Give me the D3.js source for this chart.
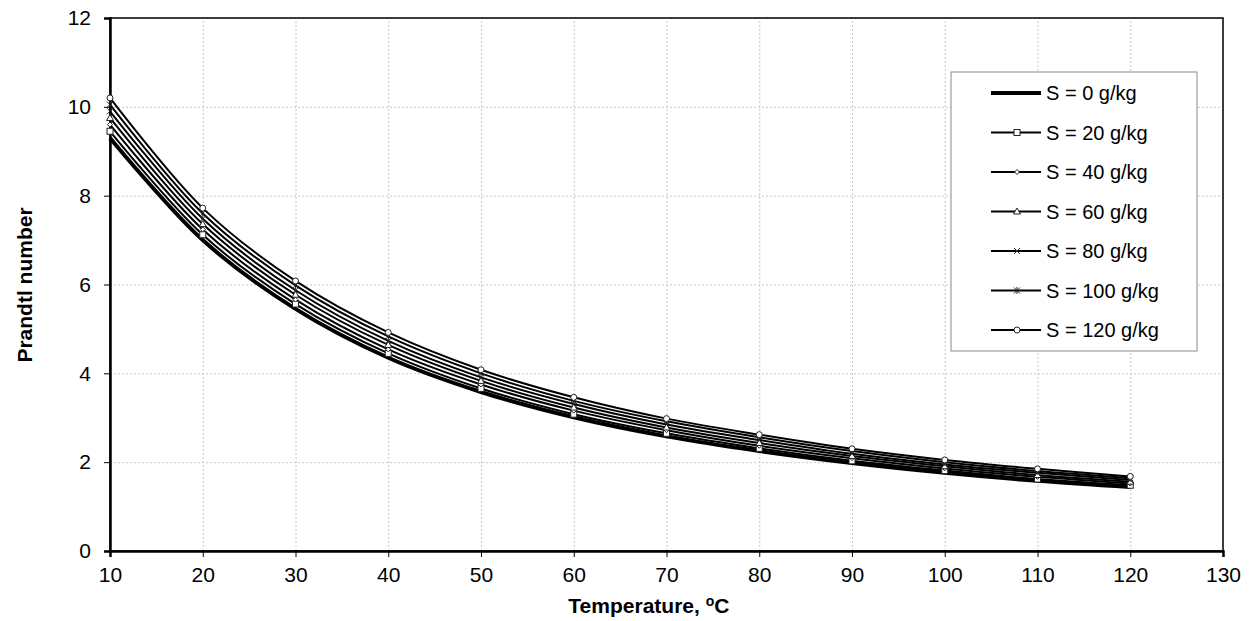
<!DOCTYPE html>
<html>
<head>
<meta charset="utf-8">
<script src="https://cdn.jsdelivr.net/npm/d3@7"></script>
<style>
  body { margin: 0; background: #fff; }
  text { font-family: "Liberation Sans", Arial, sans-serif; }
  .grid line { stroke: #c8c8c8; stroke-dasharray: 2,2; }
  .grid .domain { display: none; }
  .axis text { font-size: 21px; fill: #000; }
  .axis line, .axis path { stroke: #000; }
</style>
</head>
<body>
<div class="chart"></div>
<script>
// temperatures (x) and Prandtl numbers per salinity
const temps = [10, 20, 30, 40, 50, 60, 70, 80, 90, 100, 110, 120];
const labels = ["S = 0 g/kg", "S = 20 g/kg", "S = 40 g/kg", "S = 60 g/kg", "S = 80 g/kg", "S = 100 g/kg", "S = 120 g/kg"];
const s0   = [9.30, 7.00, 5.45, 4.35, 3.58, 3.01, 2.58, 2.25, 1.98, 1.76, 1.58, 1.44];
const s20  = [9.45, 7.12, 5.56, 4.45, 3.66, 3.08, 2.65, 2.31, 2.03, 1.81, 1.62, 1.48];
const s40  = [9.60, 7.24, 5.66, 4.54, 3.75, 3.16, 2.72, 2.37, 2.09, 1.86, 1.67, 1.52];
const s60  = [9.75, 7.36, 5.77, 4.64, 3.83, 3.23, 2.78, 2.43, 2.14, 1.91, 1.71, 1.56];
const s80  = [9.90, 7.48, 5.87, 4.73, 3.91, 3.31, 2.85, 2.50, 2.19, 1.95, 1.76, 1.60];
const s100 = [10.05, 7.60, 5.98, 4.83, 4.00, 3.38, 2.92, 2.56, 2.25, 2.00, 1.80, 1.64];
const s120 = [10.20, 7.72, 6.08, 4.92, 4.08, 3.46, 2.98, 2.62, 2.30, 2.05, 1.85, 1.68];
const series = [s0, s20, s40, s60, s80, s100, s120];
const markers = ["none", "square", "diamond", "triangle", "cross", "star", "circle"];
const xTicks = [10, 20, 30, 40, 50, 60, 70, 80, 90, 100, 110, 120, 130];
const yTicks = [0, 2, 4, 6, 8, 10, 12];

const margin = {top: 18, right: 33, bottom: 70, left: 110},
  width = 1256 - margin.left - margin.right,
  height = 621 - margin.top - margin.bottom;

const x = d3.scaleLinear().domain([10, 130]).range([0, width]);
const y = d3.scaleLinear().domain([0, 12]).range([height, 0]);

const svg = d3.select(".chart").append("svg")
    .attr("width", 1256)
    .attr("height", 621)
  .append("g")
    .attr("transform", "translate(" + margin.left + "," + margin.top + ")");

// gridlines
svg.append("g")
  .attr("class", "grid")
  .attr("transform", "translate(0," + height + ")")
  .call(d3.axisBottom(x).tickValues(xTicks).tickSize(-height).tickFormat(""));
svg.append("g")
  .attr("class", "grid")
  .call(d3.axisLeft(y).tickValues(yTicks).tickSize(-width).tickFormat(""));

// border
svg.append("rect")
  .attr("width", width).attr("height", height)
  .attr("fill", "none").attr("stroke", "#000").attr("stroke-width", 1.5);

const xAxis = svg.append("g")
  .attr("class", "axis")
  .attr("transform", "translate(0," + height + ")")
  .call(d3.axisBottom(x).tickValues(xTicks).tickSize(6).tickPadding(10));
xAxis.select(".domain").attr("stroke-width", 2.5);

const yAxis = svg.append("g")
  .attr("class", "axis")
  .call(d3.axisLeft(y).tickValues(yTicks).tickSize(6).tickPadding(13));
yAxis.select(".domain").attr("stroke-width", 2.5);

const line = d3.line()
  .x((d, i) => x(temps[i]))
  .y(d => y(d))
  .curve(d3.curveCatmullRom);

function drawMarker(g, type, cx, cy) {
  const m = g.append("g").attr("transform", "translate(" + cx + "," + cy + ")")
    .attr("fill", "#fff").attr("stroke", "#222").attr("stroke-width", 1);
  if (type === "square") m.append("rect").attr("x", -3).attr("y", -3).attr("width", 6).attr("height", 6);
  else if (type === "diamond") m.append("path").attr("d", "M0,-2.5L2.5,0L0,2.5L-2.5,0Z");
  else if (type === "triangle") m.append("path").attr("d", "M0,-3.5L3.5,2.5L-3.5,2.5Z");
  else if (type === "cross") m.append("path").attr("d", "M-3,-3L3,3M-3,3L3,-3");
  else if (type === "star") m.append("path").attr("d", "M-3,-3L3,3M-3,3L3,-3M0,-3.5L0,3.5");
  else if (type === "circle") m.append("circle").attr("r", 3);
}

series.forEach((s, k) => {
  svg.append("path")
    .datum(s)
    .attr("fill", "none")
    .attr("stroke", "#000")
    .attr("stroke-width", k === 0 ? 4 : 2)
    .attr("d", line);
});
series.forEach((s, k) => {
  if (markers[k] === "none") return;
  s.forEach((v, i) => drawMarker(svg, markers[k], x(temps[i]), y(v)));
});

// legend
const lg = svg.append("g").attr("transform", "translate(" + (951 - margin.left) + "," + (72 - margin.top) + ")");
lg.append("rect").attr("width", 246).attr("height", 279)
  .attr("fill", "#fff").attr("stroke", "#888").attr("stroke-width", 1);
labels.forEach((lab, k) => {
  const yy = 21 + k * 39.5;
  lg.append("line").attr("x1", 40).attr("x2", 90).attr("y1", yy).attr("y2", yy)
    .attr("stroke", "#000").attr("stroke-width", k === 0 ? 4 : 2);
  if (markers[k] !== "none") drawMarker(lg, markers[k], 66, yy);
  lg.append("text").attr("x", 95).attr("y", yy + 7).attr("font-size", 20).text(lab);
});

// axis titles
svg.append("text")
  .attr("transform", "translate(" + (32 - margin.left) + "," + (285 - margin.top) + ") rotate(-90)")
  .attr("text-anchor", "middle")
  .attr("font-size", 21).attr("font-weight", "bold")
  .text("Prandtl number");

const xt = svg.append("text")
  .attr("x", x(68.1)).attr("y", 613 - margin.top)
  .attr("text-anchor", "middle")
  .attr("font-size", 21).attr("font-weight", "bold");
xt.append("tspan").text("Temperature, ");
xt.append("tspan").attr("font-size", 14).attr("dy", -7).text("o");
xt.append("tspan").attr("dy", 7).text("C");
</script>
</body>
</html>
